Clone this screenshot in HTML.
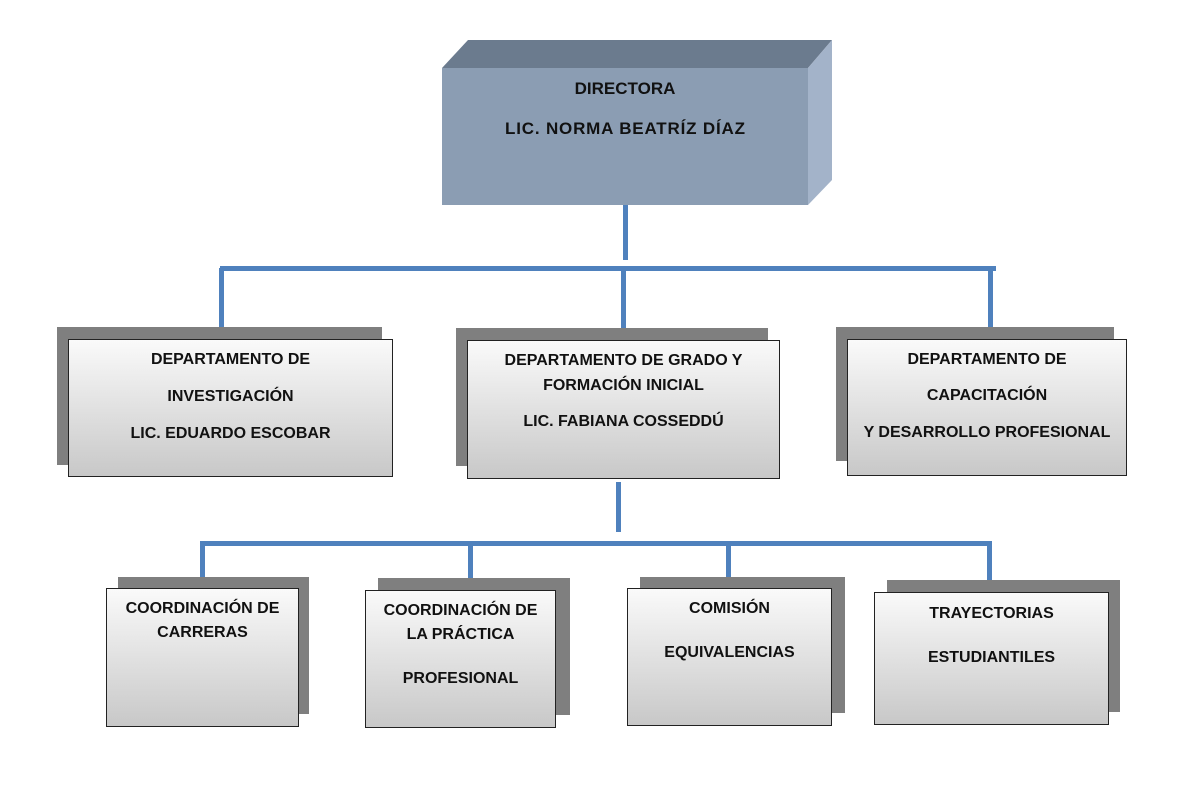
<!DOCTYPE html>
<html><head><meta charset="utf-8"><style>
body{margin:0;width:1200px;height:800px;background:#fff;position:relative;overflow:hidden;font-family:"Liberation Sans",sans-serif;}
.s{position:absolute;background:#7f7f7f;}
.f{position:absolute;box-sizing:border-box;border:1.5px solid #222;background:linear-gradient(#fafafa,#c8c8c8);text-align:center;font-weight:bold;font-size:16px;color:#111;white-space:nowrap;}
.f p{margin:0;position:absolute;left:0;right:0;}
.l{position:absolute;background:#4f81bd;}
</style></head><body>
<svg style="position:absolute;left:0;top:0" width="1200" height="800">
<polygon points="442,68 468,40 832,40 808,68" fill="#6b7b8e"/>
<polygon points="808,68 832,40 832,180 808,205" fill="#a3b3c9"/>
<rect x="442" y="68" width="366" height="137" fill="#8b9db3"/>
<text x="625" y="94" text-anchor="middle" font-family="Liberation Sans" font-weight="bold" font-size="17" fill="#111">DIRECTORA</text>
<text x="625" y="134" text-anchor="middle" font-family="Liberation Sans" font-weight="bold" font-size="17" fill="#111" textLength="240">LIC. NORMA BEATRÍZ DÍAZ</text>
</svg>
<div class="l" style="left:623px;top:205px;width:5px;height:55px"></div>
<div class="l" style="left:220px;top:266px;width:776px;height:5px"></div>
<div class="l" style="left:219px;top:268px;width:5px;height:66px"></div>
<div class="l" style="left:621px;top:268px;width:5px;height:66px"></div>
<div class="l" style="left:988px;top:268px;width:5px;height:66px"></div>

<div class="s" style="left:57px;top:327px;width:325px;height:138px"></div>
<div class="f" style="left:68px;top:339px;width:325px;height:138px"><p style="top:11px">DEPARTAMENTO DE</p><p style="top:48px">INVESTIGACIÓN</p><p style="top:85px">LIC. EDUARDO ESCOBAR</p></div>
<div class="s" style="left:456px;top:328px;width:312px;height:138px"></div>
<div class="f" style="left:467px;top:340px;width:313px;height:139px"><p style="top:11px">DEPARTAMENTO DE GRADO Y</p><p style="top:36px">FORMACIÓN INICIAL</p><p style="top:72px">LIC. FABIANA COSSEDDÚ</p></div>
<div class="s" style="left:836px;top:327px;width:278px;height:134px"></div>
<div class="f" style="left:847px;top:339px;width:280px;height:137px"><p style="top:11px">DEPARTAMENTO DE</p><p style="top:47px">CAPACITACIÓN</p><p style="top:84px">Y DESARROLLO PROFESIONAL</p></div>

<div class="l" style="left:616px;top:482px;width:5px;height:50px"></div>
<div class="l" style="left:200px;top:541px;width:792px;height:5px"></div>
<div class="l" style="left:200px;top:543px;width:5px;height:40px"></div>
<div class="l" style="left:468px;top:543px;width:5px;height:40px"></div>
<div class="l" style="left:726px;top:543px;width:5px;height:40px"></div>
<div class="l" style="left:987px;top:543px;width:5px;height:40px"></div>

<div class="s" style="left:118px;top:577px;width:191px;height:137px"></div>
<div class="f" style="left:106px;top:588px;width:193px;height:139px"><p style="top:11px">COORDINACIÓN DE</p><p style="top:35px">CARRERAS</p></div>
<div class="s" style="left:378px;top:578px;width:192px;height:137px"></div>
<div class="f" style="left:365px;top:590px;width:191px;height:138px"><p style="top:11px">COORDINACIÓN DE</p><p style="top:35px">LA PRÁCTICA</p><p style="top:79px">PROFESIONAL</p></div>
<div class="s" style="left:640px;top:577px;width:205px;height:136px"></div>
<div class="f" style="left:627px;top:588px;width:205px;height:138px"><p style="top:11px">COMISIÓN</p><p style="top:55px">EQUIVALENCIAS</p></div>
<div class="s" style="left:887px;top:580px;width:233px;height:132px"></div>
<div class="f" style="left:874px;top:592px;width:235px;height:133px"><p style="top:12px">TRAYECTORIAS</p><p style="top:56px">ESTUDIANTILES</p></div>
</body></html>
